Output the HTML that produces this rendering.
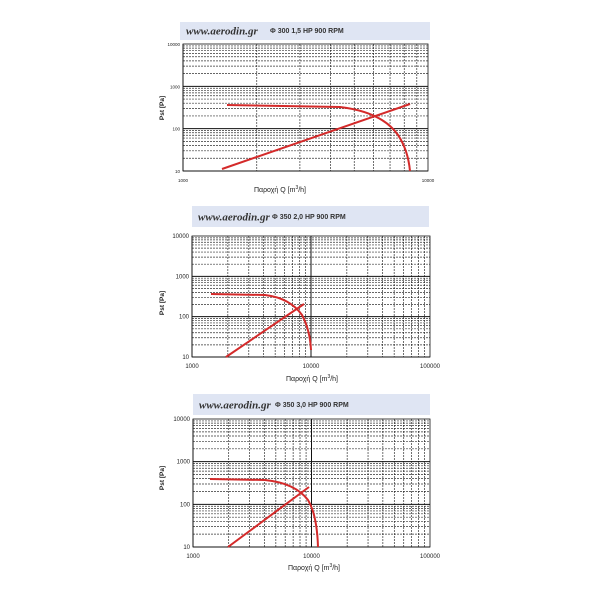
<!DOCTYPE html>
<html><head><meta charset="utf-8"><style>
body{margin:0;background:#fff;}
svg{display:block;font-family:"Liberation Sans",sans-serif;}
</style></head><body>
<svg id="s" width="600" height="600" xmlns="http://www.w3.org/2000/svg"></svg>
<script>
const s=document.getElementById('s');let h='';
function chart(c){
  h+=`<rect x="${c.hx}" y="${c.hy}" width="${c.hw}" height="${c.hh}" fill="#dfe5f3"/>`;
  h+=`<text x="${c.hx+6}" y="${c.hy+c.hh*0.7}" font-size="11" font-style="italic" font-weight="bold" fill="#333" font-family="Liberation Serif,serif">www.aerodin.gr</text>`;
  h+=`<text x="${c.tx}" y="${c.hy+c.hh*0.62}" font-size="7" font-weight="bold" fill="#333">${c.t}</text>`;
  const {x0,x1,y0,y1,xd,yd}=c;
  const W=(x1-x0)/xd,H=(y1-y0)/yd;
  for(let d=0;d<yd;d++)for(let k=1;k<10;k++){const y=y1-(d+Math.log10(k))*H;
    h+=`<line x1="${x0}" x2="${x1}" y1="${y}" y2="${y}" stroke="#111" stroke-width="${k==1?1:0.7}" stroke-dasharray="${k==1?'':'2,1'}" opacity="${k==1?1:0.85}"/>`;}
  for(let d=0;d<xd;d++)for(let k=1;k<10;k++){const x=x0+(d+Math.log10(k))*W;
    h+=`<line y1="${y0}" y2="${y1}" x1="${x}" x2="${x}" stroke="#111" stroke-width="${k==1?1:0.7}" stroke-dasharray="${k==1?'':'2,1'}" opacity="${k==1?1:0.85}"/>`;}
  h+=`<rect x="${x0}" y="${y0}" width="${x1-x0}" height="${y1-y0}" fill="none" stroke="#111" stroke-width="0.8"/>`;
  ['10','100','1000','10000'].forEach((t,i)=>{h+=`<text x="${x0-3}" y="${y1-i*H+2}" font-size="${c.fs}" text-anchor="end" fill="#222">${t}</text>`;});
  c.xl.forEach((t,i)=>{h+=`<text x="${x0+i*W}" y="${y1+11}" font-size="${c.fs}" text-anchor="middle" fill="#222">${t}</text>`;});
  h+=`<text x="${c.ax}" y="${c.ay}" font-size="7" text-anchor="middle" fill="#222">Παροχή Q [m<tspan font-size="5" dy="-3">3</tspan><tspan dy="3">/h]</tspan></text>`;
  h+=`<text transform="translate(${c.px},${c.py}) rotate(-90)" font-size="6.5" font-weight="bold" text-anchor="middle" fill="#222">Pst [Pa]</text>`;
  h+=`<path d="${c.f}" fill="none" stroke="#d42a2a" stroke-width="2"/><path d="${c.l}" fill="none" stroke="#d42a2a" stroke-width="2"/>`;
}
chart({hx:180,hy:22,hw:250,hh:18,tx:270,t:'Φ 300 1,5 HP 900 RPM',x0:183,x1:428,y0:44,y1:171,xd:1,yd:3,xl:['1000','10000'],fs:4.5,ax:280,ay:192,px:164,py:108,
 f:'M227,105 L340,107 Q382,112 398,135 Q408,150 410,171',l:'M222,169 L410,104'});
chart({hx:192,hy:206,hw:237,hh:21,tx:272,t:'Φ 350 2,0 HP 900 RPM',x0:192,x1:430,y0:236,y1:357,xd:2,yd:3,xl:['1000','10000','100000'],fs:6,ax:312,ay:381,px:164,py:303,
 f:'M211,294 L265,295 Q290,298 302,315 Q310,330 311,350',l:'M226,357 L304,304'});
chart({hx:193,hy:394,hw:237,hh:21,tx:275,t:'Φ 350 3,0 HP 900 RPM',x0:193,x1:430,y0:419,y1:547,xd:2,yd:3,xl:['1000','10000','100000'],fs:6,ax:314,ay:570,px:164,py:478,
 f:'M210,479 L265,480 Q295,483 308,500 Q317,515 318,547',l:'M228,547 L309,487'});
s.innerHTML=h;
</script>
</body></html>
